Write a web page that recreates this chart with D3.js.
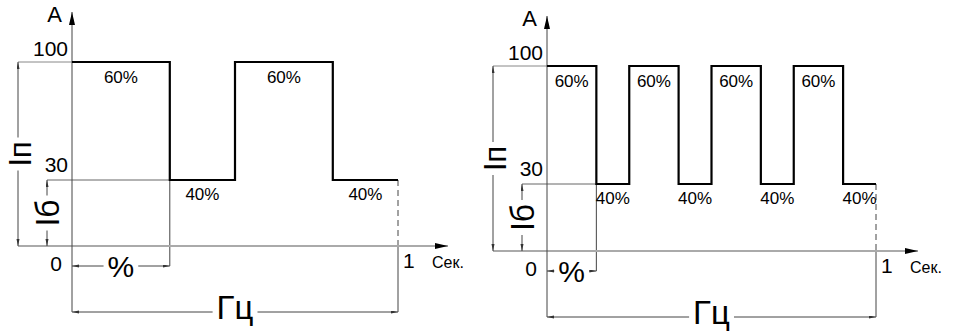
<!DOCTYPE html>
<html>
<head>
<meta charset="utf-8">
<script src="https://cdn.jsdelivr.net/npm/d3@7"></script>
<style>
  body { margin: 0; background: #fff; }
  text { font-family: "Liberation Sans", Arial, sans-serif; fill: #000; }
</style>
</head>
<body>
<svg id="chart" width="953" height="332"></svg>
<script>
// pulse settings of the two diagrams
var frequencies = [2, 4];            // pulses per second, left and right
var dutyShares  = [60, 40];          // high / low part of one period, %
var dutyLabels  = ["60%", "40%"];
var levels      = [100, 30];         // high and low current
var levelTicks  = ["100", "30"];
var timeTicks   = ["0", "1"];
var axisNames   = ["A", "Сек."];
var dimNames    = ["Iп", "Iб", "%", "Гц"];

// where each diagram sits (pixel ranges for the scales)
var panels = [
  { f: frequencies[0], xr: [72, 398],  yr: [246, 180, 62], tip: 50 },
  { f: frequencies[1], xr: [547, 876], yr: [251, 184, 66], tip: 42 }
];

var svg = d3.select("#chart");
var defs = svg.append("defs");

// big arrow for axes
defs.append("marker").attr("id", "axArrow")
    .attr("markerUnits", "userSpaceOnUse")
    .attr("markerWidth", 14).attr("markerHeight", 8)
    .attr("refX", 13).attr("refY", 3)
    .attr("orient", "auto")
  .append("path").attr("d", "M0,0 L13,3 L0,6 Z").attr("fill", "#000");

// small arrow for the dimension lines
defs.append("marker").attr("id", "dimArrow")
    .attr("markerUnits", "userSpaceOnUse")
    .attr("markerWidth", 8).attr("markerHeight", 4)
    .attr("refX", 7).attr("refY", 1.5)
    .attr("orient", "auto-start-reverse")
  .append("path").attr("d", "M0,0 L7,1.5 L0,3 Z").attr("fill", "#333");

function drawPanel(p) {
  var x = d3.scaleLinear().domain([0, 1]).range(p.xr);
  var y = d3.scaleLinear().domain([0, levels[1], levels[0]]).range(p.yr);
  var g = svg.append("g");

  var x0 = x(0), x1 = x(1), y0 = y(0), yLo = y(levels[1]), yHi = y(levels[0]);
  var firstEdge = x(dutyShares[0] / 100 / p.f);

  function ln(ax, ay, bx, by, col, w) {
    return g.append("line")
      .attr("x1", ax).attr("y1", ay).attr("x2", bx).attr("y2", by)
      .attr("stroke", col).attr("stroke-width", w || 1);
  }

  // dimension line with arrows on both ends
  function dim(ax, ay, bx, by) {
    ln(ax, ay, bx, by, "#444", 1)
      .attr("marker-start", "url(#dimArrow)")
      .attr("marker-end", "url(#dimArrow)");
  }

  // label sitting on a dimension line, white behind it
  function dimLabel(cx, cy, txt, size, rot, dy, len) {
    var lg = g.append("g").attr("transform", "translate(" + cx + "," + cy + ") rotate(" + rot + ")");
    var bg = lg.append("rect").attr("fill", "#fff");
    var t = lg.append("text").attr("text-anchor", "middle").attr("dy", dy)
      .style("font-size", size + "px").text(txt);
    if (len) t.attr("textLength", len).attr("lengthAdjust", "spacingAndGlyphs");
    var b = t.node().getBBox();
    bg.attr("x", b.x - 4).attr("width", b.width + 8).attr("y", -3).attr("height", 6);
  }

  // extension lines
  ln(x0 - 54, yHi, x0, yHi, "#888");
  ln(x0 - 25, yLo, firstEdge, yLo, "#666");
  ln(firstEdge, yLo, firstEdge, y0 + 20, "#444");
  ln(x1, yLo, x1, y0, "#444").attr("stroke-dasharray", "6,4");
  ln(x1, y0, x1, y0 + 66, "#444");

  // axes
  ln(x0 - 54, y0, x1 + p.tip, y0, "#aaa", 2).attr("marker-end", "url(#axArrow)");
  ln(x0, y0 + 66, x0, yHi - 50, "#444", 1).attr("marker-end", "url(#axArrow)");

  // pulse train
  var pts = [], segs = [];
  for (var i = 0; i < p.f; i++) {
    var t0 = i / p.f, tm = t0 + dutyShares[0] / 100 / p.f, t1 = (i + 1) / p.f;
    pts.push([t0, levels[0]], [tm, levels[0]], [tm, levels[1]], [t1, levels[1]]);
    segs.push({ a: t0, b: tm, v: levels[0], lab: dutyLabels[0] });
    segs.push({ a: tm, b: t1, v: levels[1], lab: dutyLabels[1] });
  }
  g.append("path")
    .attr("d", d3.line().x(function (d) { return x(d[0]); }).y(function (d) { return y(d[1]); })(pts))
    .attr("fill", "none").attr("stroke", "#000").attr("stroke-width", 2.2)
    .attr("stroke-linejoin", "miter");

  g.selectAll("text.duty").data(segs).enter().append("text")
    .attr("class", "duty")
    .attr("x", function (d) { return (x(d.a) + x(d.b)) / 2; })
    .attr("y", function (d) { return y(d.v) + (d.v === levels[0] ? 21 : 20); })
    .attr("text-anchor", "middle")
    .style("font-size", "17px")
    .text(function (d) { return d.lab; });

  // level ticks
  g.selectAll("text.lev").data(levels).enter().append("text")
    .attr("class", "lev")
    .attr("x", x0 - 4)
    .attr("y", function (d, i) { return y(d) - (i === 0 ? 6 : 8); })
    .attr("text-anchor", "end")
    .style("font-size", "21px")
    .text(function (d, i) { return levelTicks[i]; });

  // time ticks
  g.append("text").attr("x", x0 - 10).attr("y", y0 + 25).attr("text-anchor", "end")
    .style("font-size", "21px").text(timeTicks[0]);
  g.append("text").attr("x", x1 + 5).attr("y", y0 + 22)
    .style("font-size", "21px").text(timeTicks[1]);

  // axis names
  g.append("text").attr("x", x0 - 10).attr("y", yHi - 40).attr("text-anchor", "end")
    .style("font-size", "22px").text(axisNames[0]);
  g.append("text").attr("x", x1 + 34).attr("y", y0 + 22)
    .style("font-size", "16px").text(axisNames[1]);

  // dimensions
  dim(x0 - 54, yHi, x0 - 54, y0);
  dimLabel(x0 - 53, (yHi + y0) / 2, dimNames[0], 32, -90, "0.36em", 25);
  dim(x0 - 25, yLo, x0 - 25, y0);
  dimLabel(x0 - 25, (yLo + y0) / 2, dimNames[1], 34, -90, "0.36em", 27);
  dim(x0, y0 + 20, firstEdge, y0 + 20);
  dimLabel((x0 + firstEdge) / 2, y0 + 20, dimNames[2], 30, 0, "0.36em");
  dim(x0, y0 + 66, x1, y0 + 66);
  dimLabel((x0 + x1) / 2, y0 + 66, dimNames[3], 33, 0, "0.22em");
}

panels.forEach(drawPanel);
</script>
</body>
</html>
